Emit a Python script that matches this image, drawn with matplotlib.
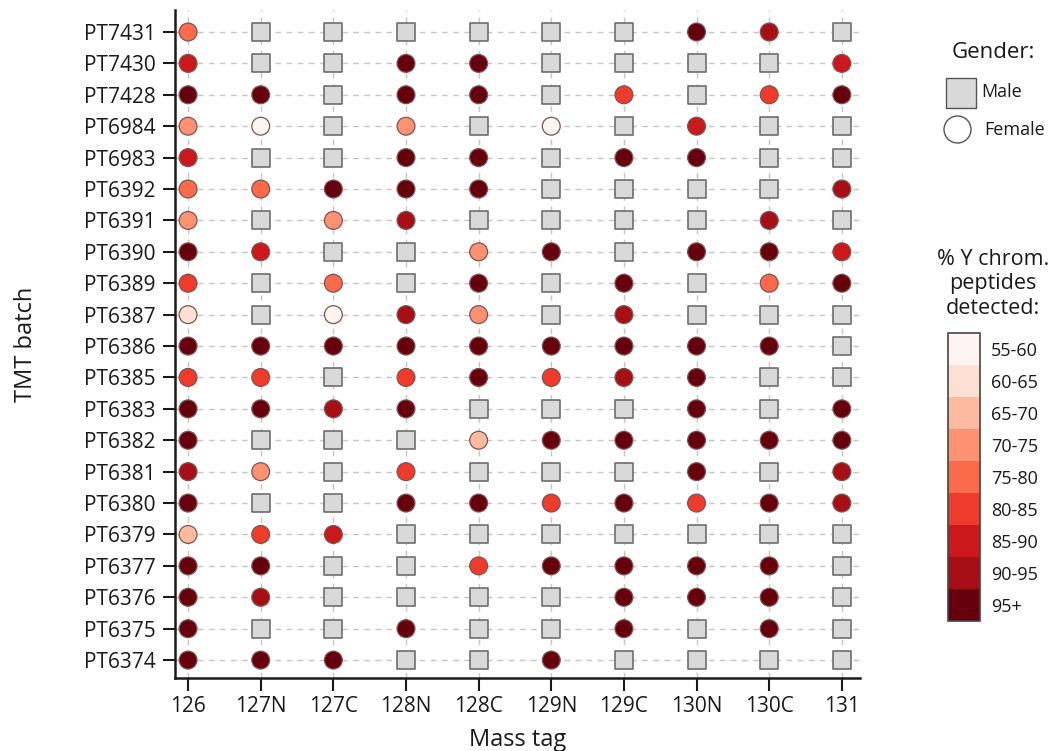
import matplotlib
matplotlib.use("Agg")
import matplotlib.pyplot as plt
import numpy as np
from matplotlib.colors import ListedColormap, BoundaryNorm
from matplotlib.cm import ScalarMappable

plt.rcParams['font.family'] = ['Open Sans', 'DejaVu Sans']

# ---------------- data ----------------
batches = ["PT7431", "PT7430", "PT7428", "PT6984", "PT6983", "PT6392", "PT6391",
           "PT6390", "PT6389", "PT6387", "PT6386", "PT6385", "PT6383", "PT6382",
           "PT6381", "PT6380", "PT6379", "PT6377", "PT6376", "PT6375", "PT6374"]
tags = ["126", "127N", "127C", "128N", "128C", "129N", "129C", "130N", "130C", "131"]
bin_labels = ["55-60", "60-65", "65-70", "70-75", "75-80", "80-85", "85-90", "90-95", "95+"]
bin_colors = ["#fff5f0", "#fee0d2", "#fcbba1", "#fc9272", "#fb6a4a",
              "#ef3b2c", "#cb181d", "#a50f15", "#67000d"]
# -1 = male (square); 0..8 = bin index of % Y chrom. peptides detected
values = [
    [4, -1, -1, -1, -1, -1, -1, 8, 7, -1],   # PT7431
    [6, -1, -1, 8, 8, -1, -1, -1, -1, 6],    # PT7430
    [8, 8, -1, 8, 8, -1, 5, -1, 5, 8],       # PT7428
    [3, 0, -1, 3, -1, 0, -1, 6, -1, -1],     # PT6984
    [6, -1, -1, 8, 8, -1, 8, 8, -1, -1],     # PT6983
    [4, 4, 8, 8, 8, -1, -1, -1, -1, 7],      # PT6392
    [3, -1, 3, 7, -1, -1, -1, -1, 7, -1],    # PT6391
    [8, 6, -1, -1, 3, 8, -1, 8, 8, 6],       # PT6390
    [5, -1, 4, -1, 8, -1, 8, -1, 4, 8],      # PT6389
    [1, -1, 0, 7, 3, -1, 7, -1, -1, -1],     # PT6387
    [8, 8, 8, 8, 8, 8, 8, 8, 8, -1],         # PT6386
    [5, 5, -1, 5, 8, 5, 7, 8, -1, -1],       # PT6385
    [8, 8, 7, 8, -1, -1, -1, 8, -1, 8],      # PT6383
    [8, -1, -1, -1, 2, 8, 8, 8, 8, 8],       # PT6382
    [7, 3, -1, 5, -1, -1, -1, 8, -1, 7],     # PT6381
    [8, -1, -1, 8, 8, 5, 8, 5, 8, 7],        # PT6380
    [2, 5, 6, -1, -1, -1, -1, -1, -1, -1],   # PT6379
    [8, 8, -1, -1, 5, 8, 8, 8, 8, -1],       # PT6377
    [8, 7, -1, -1, -1, -1, 8, 8, 8, -1],     # PT6376
    [8, -1, -1, 8, -1, -1, 8, -1, 8, -1],    # PT6375
    [8, 8, 8, -1, -1, 8, -1, -1, -1, -1],    # PT6374
]

# ---------------- figure ----------------
W, H = 1050, 751
fig = plt.figure(figsize=(W / 100, H / 100), dpi=100)
ax = fig.add_axes([175 / W, 73 / H, (860 - 175) / W, (678 - 10) / H])

vals = np.array(values)
yy, xx = np.indices(vals.shape)
male = vals < 0
fem = ~male

ax.scatter(xx[male], yy[male], marker='s', s=165, facecolor='#d9d9d9',
           edgecolor='#6e6e6e', linewidth=1.2, zorder=3)
ax.scatter(xx[fem], yy[fem], marker='o', s=165,
           c=[bin_colors[v] for v in vals[fem]],
           edgecolor='#7a5550', linewidth=0.9, zorder=3)

ax.set_xticks(range(len(tags)))
ax.set_xticklabels(tags)
ax.set_yticks(range(len(batches)))
ax.set_yticklabels(batches)
ax.set_xlim(-0.18, 9.25)
ax.set_ylim(20.57, -0.7)

ax.grid(True, color='#c4c4c4', linestyle=(0, (4, 4)), linewidth=1.0, zorder=0)
for s in ['top', 'right']:
    ax.spines[s].set_visible(False)
for s in ['left', 'bottom']:
    ax.spines[s].set_linewidth(1.8)
    ax.spines[s].set_color('#1a1a1a')
ax.tick_params(axis='both', direction='out', length=9, width=1.5,
               color='#1a1a1a', labelsize=15, labelcolor='#1a1a1a')
ax.tick_params(axis='y', pad=5)
ax.tick_params(axis='x', pad=4)
ax.set_xlabel("Mass tag", fontsize=17, color='#1a1a1a', labelpad=8)
ax.set_ylabel("TMT batch", fontsize=17, color='#1a1a1a', labelpad=33)

# ---------------- gender legend ----------------
lax = fig.add_axes([0, 0, 1, 1])
lax.set_xlim(0, W)
lax.set_ylim(H, 0)
lax.axis('off')
fig.text(993 / W, 1 - 52 / H, "Gender:", ha='center', va='center', fontsize=16, color='#1a1a1a')
lax.scatter([961], [93], marker='s', s=(30 * 0.72) ** 2, facecolor='#d9d9d9',
            edgecolor='#555555', linewidth=1.0)
lax.scatter([957], [129], marker='o', s=(27 * 0.72) ** 2, facecolor='white',
            edgecolor='#555555', linewidth=1.0)
fig.text(981 / W, 1 - 92 / H, "Male", ha='left', va='center', fontsize=13, color='#1a1a1a')
fig.text(984 / W, 1 - 130 / H, "Female", ha='left', va='center', fontsize=13, color='#1a1a1a')

# ---------------- colour bar ----------------
fig.text(993 / W, 1 - 284 / H, "% Y chrom.\npeptides\ndetected:", ha='center', va='center',
         fontsize=15.5, color='#1a1a1a', linespacing=1.2)
cmap = ListedColormap(bin_colors)
norm = BoundaryNorm(np.arange(len(bin_colors) + 1), cmap.N)
cax = fig.add_axes([948 / W, (H - 621) / H, 32 / W, 288 / H])
cb = fig.colorbar(ScalarMappable(norm=norm, cmap=cmap), cax=cax, drawedges=True,
                  ticks=np.arange(len(bin_labels)) + 0.5)
cb.set_ticklabels(bin_labels)
cax.invert_yaxis()
cax.minorticks_off()
cax.tick_params(which='both', length=0, labelsize=13, pad=8, labelcolor='#1a1a1a')
cb.outline.set_edgecolor('#444444')
cb.outline.set_linewidth(1.2)
cb.dividers.set_color('#4a3030')
cb.dividers.set_linewidth(1.0)

fig.savefig("out.png", dpi=100)
